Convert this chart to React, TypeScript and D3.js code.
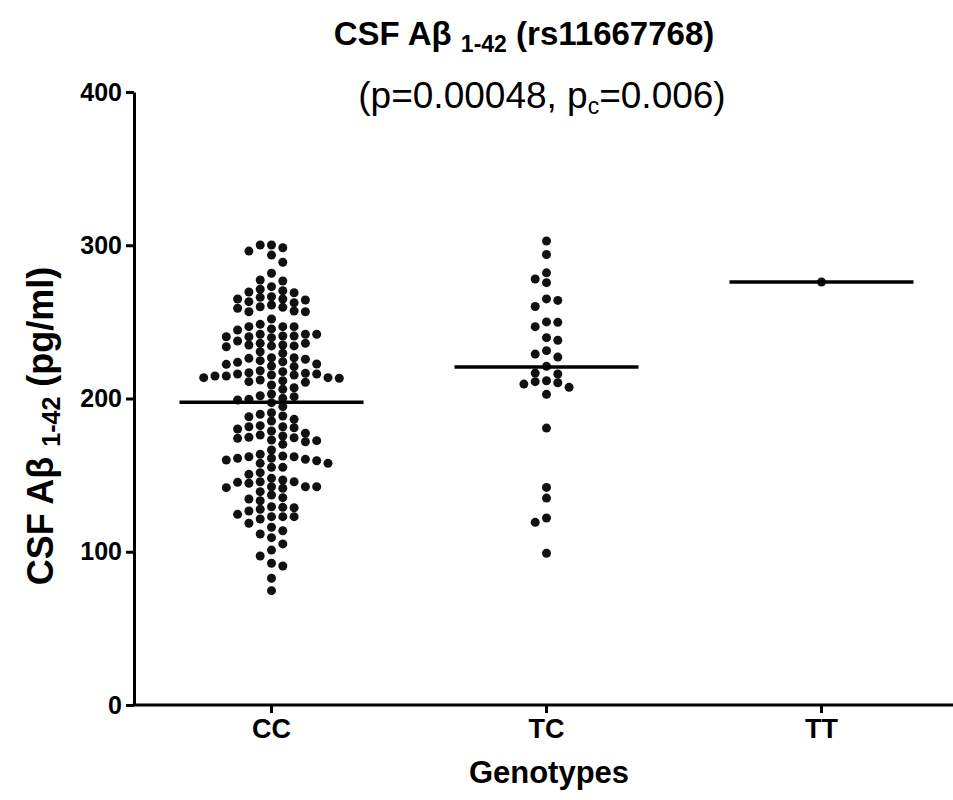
import * as d3 from 'd3';
import React, { useEffect, useRef } from 'react';

// genotype groups
const categories = ['CC', 'TC', 'TT'];

// CSF Abeta 1-42 (pg/ml), top to bottom
const ccValues = [
  300.2, 296.2, 293.6, 298.4, 300.2, 288.9, 281.7, 276.7, 277.3, 273.0,
  271.3, 269.5, 266.4, 264.9, 264.3, 264.9, 266.0, 269.0, 270.3,
  262.5, 259.9, 258.9, 256.6, 256.6, 257.1, 259.5, 261.0, 263.2, 251.9,
  248.4, 246.9, 245.4, 246.9, 246.9, 244.7,
  241.9, 236.0, 240.8, 234.9, 240.8, 234.3, 239.7, 233.8, 237.5, 240.3,
  240.3, 234.3, 241.9, 234.9, 241.9, 236.0, 229.5, 230.5,
  226.6, 225.6, 224.0, 222.5, 221.2, 220.8, 222.3, 223.6, 224.7, 226.2, 226.6,
  218.1, 216.8, 216.0, 215.3, 214.7, 213.6, 213.2, 213.6, 214.7, 215.3, 216.0, 216.4, 217.5,
  210.6, 208.8, 212.1, 211.0, 211.6, 206.0, 207.0,
  201.8, 200.1, 199.0, 202.9, 197.3, 199.5, 201.2, 194.7,
  185.3, 189.7, 188.1, 186.4, 188.6, 190.7,
  181.6, 180.9, 178.8, 180.1, 181.6, 182.3,
  177.3, 175.5, 174.4, 172.9, 171.8, 170.1, 172.5, 174.0, 174.7, 176.2,
  166.4, 163.6,
  162.0, 157.7, 161.0, 155.1, 160.3, 159.4, 159.9, 155.1, 161.0, 157.7, 162.0, 162.5,
  151.6, 150.5,
  146.8, 141.8, 145.7, 144.7, 142.4, 142.4, 137.0, 145.3, 141.4, 145.7, 142.4, 147.9,
  139.2, 135.3, 134.4, 133.3,
  129.4, 129.0, 126.6, 127.7, 128.7, 122.9, 122.9, 124.4, 122.9, 121.4, 118.6,
  116.0, 111.6, 113.7, 109.2, 105.1, 101.1, 97.2, 90.7, 92.5, 82.7, 74.6,
];
const tcValues = [
  302.8, 294.0, 282.0, 278.0, 275.6, 265.0, 264.0, 260.0, 250.0, 249.7,
  246.9, 239.7, 238.0, 231.2, 229.0, 227.0, 221.0, 216.0, 216.6, 211.0,
  209.4, 210.3, 211.6, 207.3, 202.7, 180.7, 142.0, 135.0, 122.0, 119.2, 99.0,
];
const ttValues = [276.0];

const yTicks = [0, 100, 200, 300, 400];

const font = '"Liberation Sans", Arial, Helvetica, sans-serif';

// column-grid beeswarm, like the scatter dot plots of Prism
function swarm(values, yScale, colStep, minDy) {
  const pts = values.map((v) => ({ v, y: yScale(v), col: 0 }))
    .sort((a, b) => a.y - b.y);
  const cols = new Map();
  let leftFirst = true;
  pts.forEach((p) => {
    for (let k = 0; k < 60; k++) {
      const m = Math.ceil(k / 2);
      let c = 0;
      if (k > 0) {
        const first = leftFirst ? -m : m;
        c = k % 2 ? first : -first;
      }
      const ys = cols.get(c) || [];
      if (ys.every((yy) => Math.abs(yy - p.y) >= minDy)) {
        ys.push(p.y);
        cols.set(c, ys);
        p.col = c;
        if (c !== 0) leftFirst = !leftFirst;
        break;
      }
    }
  });
  return pts.map((p) => ({ ...p, dx: p.col * colStep }));
}

export default function App() {
  const ref = useRef(null);

  useEffect(() => {
    const width = 953;
    const height = 800;
    const margin = { top: 92, left: 134, bottom: 95 };

    const svg = d3.select(ref.current);
    svg.selectAll('*').remove();
    svg.attr('width', width).attr('height', height);

    const y = d3.scaleLinear()
      .domain([0, 400])
      .range([height - margin.bottom, margin.top]);

    const x = d3.scaleBand()
      .domain(categories)
      .range([margin.left, margin.left + 825])
      .padding(0);

    // Y axis
    const yAxis = d3.axisLeft(y)
      .tickValues(yTicks)
      .tickSize(8)
      .tickSizeOuter(0)
      .tickPadding(4);

    const gy = svg.append('g')
      .attr('transform', `translate(${margin.left},0)`)
      .call(yAxis);
    gy.select('.domain').attr('stroke', 'black').attr('stroke-width', 3);
    gy.selectAll('.tick line').attr('stroke', 'black').attr('stroke-width', 3);
    gy.selectAll('.tick text')
      .attr('fill', 'black')
      .style('font-family', font)
      .style('font-weight', 'bold')
      .style('font-size', '25px');

    // X axis
    const xAxis = d3.axisBottom(x)
      .tickSize(8)
      .tickSizeOuter(0)
      .tickPadding(6);

    const gx = svg.append('g')
      .attr('transform', `translate(0,${y(0)})`)
      .call(xAxis);
    gx.select('.domain').remove();
    gx.selectAll('.tick line').attr('stroke', 'black').attr('stroke-width', 3);
    gx.selectAll('.tick text')
      .attr('fill', 'black')
      .style('font-family', font)
      .style('font-weight', 'bold')
      .style('font-size', '27px');

    svg.append('line')
      .attr('x1', margin.left - 1.5)
      .attr('x2', width)
      .attr('y1', y(0))
      .attr('y2', y(0))
      .attr('stroke', 'black')
      .attr('stroke-width', 3);

    // dots
    const groups = [ccValues, tcValues, ttValues];
    const dots = svg.append('g');
    groups.forEach((vals, i) => {
      const cx = x(categories[i]) + x.bandwidth() / 2;
      const pts = swarm(vals, y, 11.3, 8);
      dots.selectAll(null)
        .data(pts)
        .enter()
        .append('circle')
        .attr('cx', (d) => cx + d.dx)
        .attr('cy', (d) => d.y)
        .attr('r', 4.5)
        .attr('fill', '#111');

      // mean line
      const m = d3.mean(vals);
      svg.append('line')
        .attr('x1', cx - 92)
        .attr('x2', cx + 92)
        .attr('y1', y(m))
        .attr('y2', y(m))
        .attr('stroke', 'black')
        .attr('stroke-width', 3.5);
    });

    // title
    const title = svg.append('text')
      .attr('x', 524)
      .attr('y', 45)
      .attr('text-anchor', 'middle')
      .attr('fill', 'black')
      .style('font-family', font)
      .style('font-weight', 'bold')
      .style('font-size', '33px');
    title.append('tspan').text('CSF Aβ ');
    title.append('tspan').attr('dy', 7).style('font-size', '23px').text('1-42');
    title.append('tspan').attr('dy', -7).text(' (rs11667768)');

    const sub = svg.append('text')
      .attr('x', 542)
      .attr('y', 108)
      .attr('text-anchor', 'middle')
      .attr('fill', 'black')
      .style('font-family', font)
      .style('font-size', '37px');
    sub.append('tspan').text('(p=0.00048, p');
    sub.append('tspan').attr('dy', 6).style('font-size', '23px').text('c');
    sub.append('tspan').attr('dy', -6).text('=0.006)');

    // axis titles
    svg.append('text')
      .attr('x', 549)
      .attr('y', 783)
      .attr('text-anchor', 'middle')
      .attr('fill', 'black')
      .style('font-family', font)
      .style('font-weight', 'bold')
      .style('font-size', '31px')
      .text('Genotypes');

    const yl = svg.append('text')
      .attr('text-anchor', 'middle')
      .attr('fill', 'black')
      .attr('transform', 'translate(53,426)rotate(-90)')
      .style('font-family', font)
      .style('font-weight', 'bold')
      .style('font-size', '36px');
    yl.append('tspan').text('CSF Aβ ');
    yl.append('tspan').attr('dy', 7).style('font-size', '25px').text('1-42');
    yl.append('tspan').attr('dy', -7).text(' (pg/ml)');
  }, []);

  return (
    <svg
      ref={ref}
      style={{ position: 'absolute', left: 0, top: 0, background: 'white' }}
    />
  );
}
